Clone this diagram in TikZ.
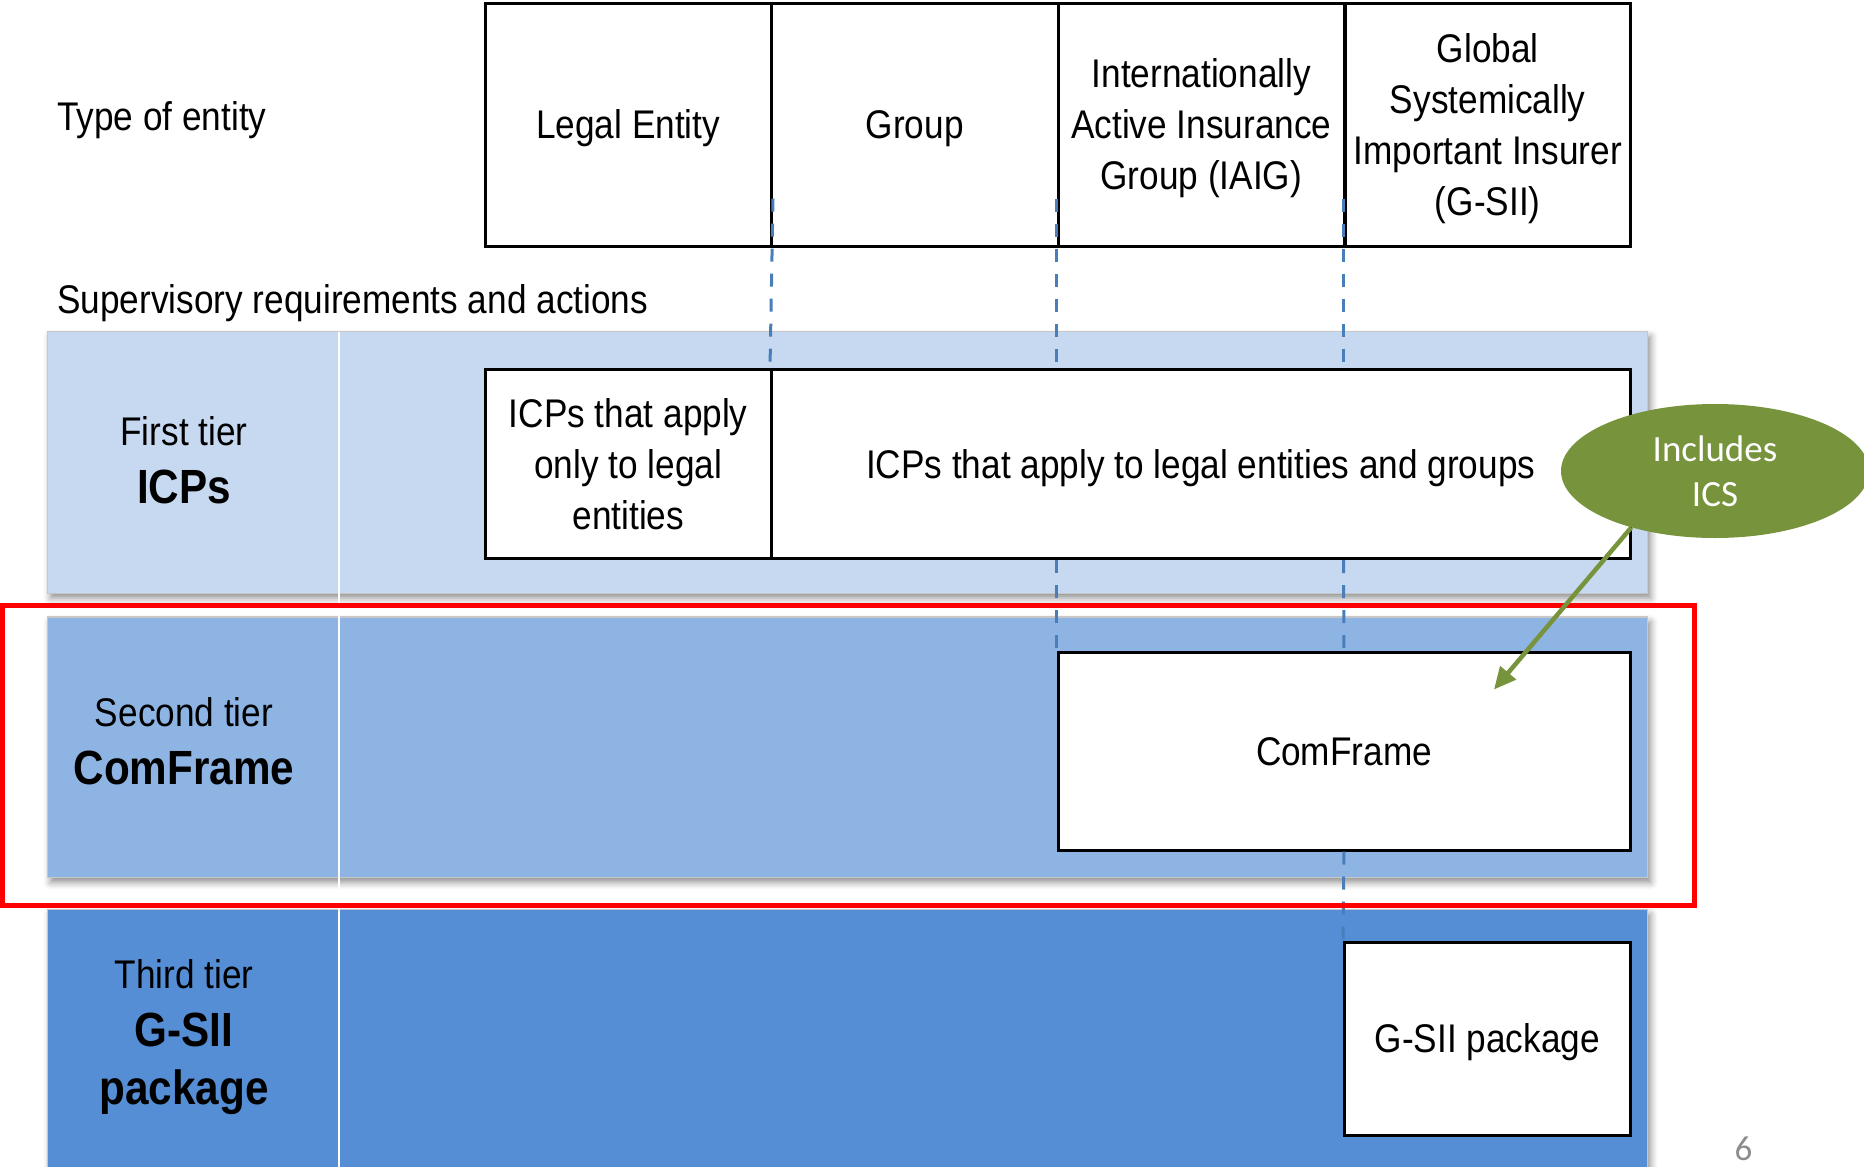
\documentclass[tikz,border=0pt]{standalone}
\usepackage{fontspec}
\setmainfont{Liberation Sans}[FakeStretch=0.88]
\newfontfamily\calibrifont{Carlito}
\usetikzlibrary{shapes.geometric,shadows.blur,arrows.meta}

\definecolor{tierA}{HTML}{C6D9F1}
\definecolor{tierB}{HTML}{8EB4E3}
\definecolor{tierC}{HTML}{558ED5}
\definecolor{guide}{HTML}{4A7EBB}
\definecolor{olive}{HTML}{77933C}
\definecolor{pagegray}{HTML}{8C8C8C}

% full ascent/descent strut so lines are centred on the font's line box
\newcommand\lstrut{\rule[-8.5pt]{0pt}{44.7pt}}

\begin{document}
\begin{tikzpicture}[x=1pt,y=-1pt,
  band/.style={fill=#1, draw=black!22, line width=1.2pt,
    blur shadow={shadow xshift=3pt,shadow yshift=-5pt,shadow blur radius=7pt,shadow opacity=45}},
  cell/.style={draw=black, line width=3pt, fill=white, inner sep=0pt, align=center,
    font=\fontsize{40}{51}\selectfont},
  plain/.style={inner sep=0pt, font=\fontsize{40}{51}\selectfont},
  tiertext/.style={inner sep=0pt, align=center, font=\fontsize{40}{58}\selectfont},
  guideline/.style={draw=guide, line width=3pt, dash pattern=on 13pt off 12pt},
  callout/.style={ellipse, fill=olive, inner sep=0pt, minimum width=308pt, minimum height=134pt,
    text=white, align=center, font=\calibrifont\fontsize{37}{45}\selectfont},
  pointer/.style={draw=olive, line width=4.5pt, -{Triangle[length=22pt,width=20pt]}}
]
\useasboundingbox (0,0) rectangle (1864,1167);

% tier bands
\path[band=tierA] (47.6,331.7) rectangle (1647.6,593.2);
\path[band=tierB] (47.6,617.0) rectangle (1647.6,877.3);
\path[band=tierC] (47.6,909.4) rectangle (1647.6,1180);
\draw[white, line width=2pt] (338.8,331.7) -- (338.8,1167);

% left captions
\node[plain, anchor=west] (typ) at (57,116.5) {\lstrut Type of entity};
\node[plain, anchor=west] (sup) at (57,299.6) {\lstrut Supervisory requirements and actions};

% header table
\node[cell, minimum width=286.5pt, minimum height=242.5pt] (le) at (628.25,124.85) {\lstrut Legal Entity};
\node[cell, minimum width=286.5pt, minimum height=242.5pt] (grp) at (914.75,124.85) {\lstrut Group};
\node[cell, minimum width=286.5pt, minimum height=242.5pt] (iaig) at (1201.25,124.85)
  {\lstrut Internationally\\Active Insurance\\\lstrut Group (IAIG)};
\node[cell, minimum width=285.5pt, minimum height=242.5pt] (gsii) at (1487.75,124.85)
  {\lstrut Global\\Systemically\\Important Insurer\\\lstrut(G-SII)};

% requirement boxes
\node[cell, minimum width=286.5pt, minimum height=189pt] (icpa) at (628.25,464.2)
  {\lstrut ICPs that apply\\only to legal\\\lstrut entities};
\node[cell, minimum width=858.5pt, minimum height=189pt] (icpb) at (1200.75,464.2)
  {\lstrut ICPs that apply to legal entities and groups};
\node[cell, minimum width=572pt, minimum height=197.4pt] (cf) at (1344,751.3) {\lstrut ComFrame};
\node[cell, minimum width=285.5pt, minimum height=192.6pt] (gp) at (1487.25,1039) {\lstrut G-SII package};

% tier captions
\node[tiertext] (t1) at (184,460) {First tier\\{\bfseries\fontsize{48}{58}\selectfont ICPs}};
\node[tiertext] (t2) at (184,741) {Second tier\\{\bfseries\fontsize{48}{58}\selectfont ComFrame}};
\node[tiertext] (t3) at (184,1037) {Third tier\\{\bfseries\fontsize{48}{58}\selectfont G-SII}\\{\bfseries\fontsize{48}{58}\selectfont package}};

% dashed column guides
\draw[guideline] ([yshift=49pt]le.south east) -- (icpb.north west);
\draw[guideline] ([yshift=49pt]iaig.south west) -- (icpb.north -| iaig.south west);
\draw[guideline] (icpb.south -| iaig.south west) -- (cf.north west);
\draw[guideline] ([yshift=49pt]gsii.south west) -- (icpb.north -| gsii.south west);
\draw[guideline] (icpb.south -| gsii.south west) -- (cf.north);
\draw[guideline] (cf.south) -- (gp.north west);

% highlight frame
\draw[red, line width=5pt] (2.4,605) rectangle (1694,905.8);

% callout
\node[callout] (incl) at (1715,471) {Includes\\ICS};
\coordinate (tip) at (1494,689.5);
\draw[pointer] (incl.214) -- (tip);

% page number
\node[inner sep=0pt, text=pagegray, font=\calibrifont\fontsize{35}{42}\selectfont] (pg) at (1743.5,1148.5) {6};
\end{tikzpicture}
\end{document}
